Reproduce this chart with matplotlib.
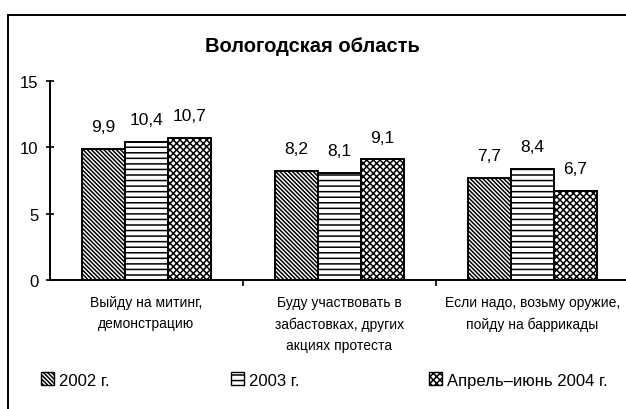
import matplotlib
matplotlib.use("Agg")
import matplotlib.pyplot as plt
from matplotlib.patches import Patch
from matplotlib.lines import Line2D
import numpy as np

plt.rcParams['font.family'] = ['Liberation Sans', 'DejaVu Sans']
plt.rcParams['hatch.linewidth'] = 1.1

categories = ["Выйду на митинг,\nдемонстрацию",
              "Буду участвовать в\nзабастовках, других\nакциях протеста",
              "Если надо, возьму оружие,\nпойду на баррикады"]
series_names = ["2002 г.", "2003 г.", "Апрель–июнь 2004 г."]
v2002 = [9.9, 8.2, 7.7]
v2003 = [10.4, 8.1, 8.4]
v2004 = [10.7, 9.1, 6.7]
yticks = [0, 5, 10, 15]
title = "Вологодская область"

series = [v2002, v2003, v2004]
hatches = ['\\' * 8, '-' * 3, 'x' * 5]

W, H = 626, 410
fig = plt.figure(figsize=(W / 100, H / 100), dpi=100)
ax = fig.add_axes([49.5 / W, 1 - 281 / H, (629 - 49.5) / W, (281 - 82) / H])

x = np.arange(len(categories))
bw = 43 / 193
for i, (vals, h) in enumerate(zip(series, hatches)):
    bars = ax.bar(x + (i - 1) * bw, vals, bw, color='white', edgecolor='black',
                  hatch=h, linewidth=1.4, zorder=2)
    for b, v in zip(bars, vals):
        ax.annotate(f"{v:.1f}".replace('.', ','),
                    (b.get_x() + b.get_width() / 2, b.get_height()),
                    xytext=(0, 16), textcoords='offset points',
                    ha='center', va='center', fontsize=12.5)

ax.set_xlim(-0.5, 2.5)
ax.set_ylim(0, 15)
ax.set_yticks(yticks)
ax.set_yticklabels([str(t) for t in yticks], fontsize=12)
ax.tick_params(axis='y', direction='inout', length=6, width=1.2, pad=5)

ax.set_xticks(x)
ax.set_xticklabels(categories, fontsize=10, linespacing=1.65)
ax.tick_params(axis='x', which='major', length=0, pad=11)
ax.set_xticks([0.5, 1.5], minor=True)
ax.tick_params(axis='x', which='minor', direction='out', length=4, width=1.2)

for s in ['top', 'right']:
    ax.spines[s].set_visible(False)
for s in ['left', 'bottom']:
    ax.spines[s].set_linewidth(1.4)
ax.spines['bottom'].set_zorder(3)

fig.text(312 / W, 1 - 46 / H, title, ha='center', va='center',
         fontsize=14.5, fontweight='bold')

# outer frame
fig.add_artist(Line2D([8 / W, 8 / W], [0, 1 - 16 / H], color='black', lw=1.4,
                      transform=fig.transFigure))
fig.add_artist(Line2D([8 / W, 1], [1 - 16 / H, 1 - 16 / H], color='black', lw=1.4,
                      transform=fig.transFigure))

legend_x = [41, 231, 429]
for lx, name, h in zip(legend_x, series_names, hatches):
    hd = Patch(facecolor='white', edgecolor='black', hatch=h, linewidth=1.0)
    fig.legend([hd], [name], loc='center left',
               bbox_to_anchor=(lx / W, 1 - 381 / H), frameon=False,
               fontsize=12, handlelength=0.8, handleheight=0.8,
               handletextpad=0.3, borderpad=0, borderaxespad=0)

fig.savefig("out.png", dpi=100)
